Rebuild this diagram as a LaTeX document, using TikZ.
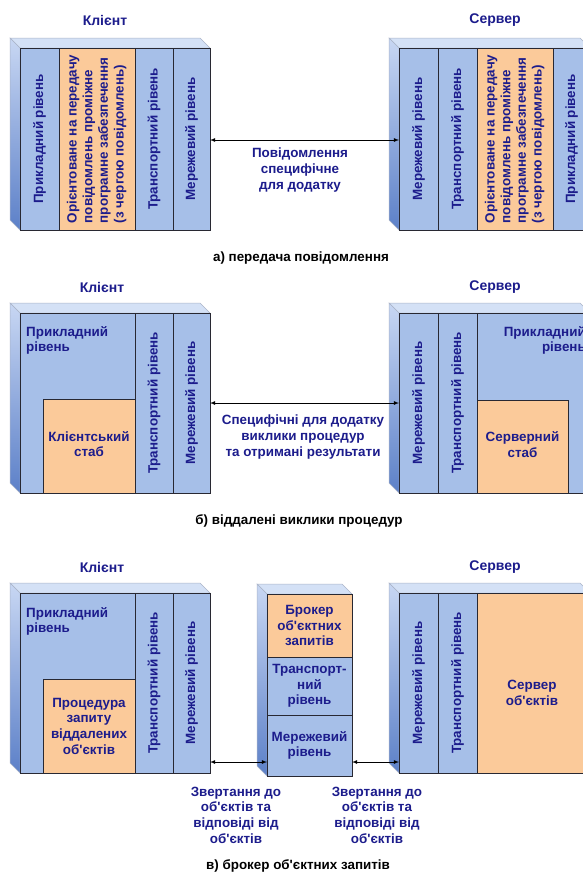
\documentclass[tikz,border=0pt]{standalone}
\usepackage{fontspec}
\setmainfont[Ligatures=TeXOff]{Liberation Sans}
\usepackage{graphicx}
\definecolor{layblue}{RGB}{166,191,232}
\definecolor{stubfill}{RGB}{251,202,154}
\definecolor{topface}{RGB}{212,225,246}
\definecolor{sidetop}{RGB}{200,215,243}
\definecolor{sidebot}{RGB}{92,128,200}
\definecolor{rimgray}{RGB}{170,180,200}
\definecolor{edgec}{RGB}{40,40,50}
\definecolor{txtblue}{RGB}{28,28,140}
% top and left faces of a box whose front face is (#1,#2)-(#3,#4)
\newcommand\slabfaces[4]{%
  \fill[topface,draw=rimgray,line width=0.5pt] (#1-10,#2-10) -- (#3-10,#2-10) -- (#3,#2) -- (#1,#2) -- cycle;
  \shade[top color=sidetop,bottom color=sidebot,draw=rimgray,line width=0.5pt]
    (#1-10,#2-10) -- (#1,#2) -- (#1,#4) -- (#1-10,#4-10) -- cycle;
}
\begin{document}
\begin{tikzpicture}[x=1pt,y=-1pt,
  txt/.style={text=txtblue,font=\bfseries\fontsize{13.4}{15.7}\selectfont},
  lay/.style={txt,draw=edgec,line width=0.8pt,fill=layblue,inner sep=0pt,outer sep=0pt,anchor=north west},
  stubbox/.style={lay,fill=stubfill},
  title/.style={txt,font=\bfseries\fontsize{14}{16}\selectfont},
  caption/.style={font=\bfseries\fontsize{13.4}{15.7}\selectfont,text=black},
  note/.style={txt,align=center,inner sep=0pt},
  link/.style={<->,>=latex,line width=0.8pt,black}]
\useasboundingbox (0,0) rectangle (583,876);
\clip (0,0) rectangle (583,876);
\fill[white] (0,0) rectangle (583,876);

% ---------------- a) message passing ----------------
\node[title] (ta1) at (105,20) {Клієнт};
\node[title] (ta2) at (495,20) {Сервер};
\slabfaces{20}{48}{210}{230}
\node[lay,minimum width=39pt,minimum height=182pt] (ca1) at (20,48) {\rotatebox{90}{Прикладний рівень}};
\node[stubbox,minimum width=76pt,minimum height=182pt] (ca2) at (59,48)
  {\rotatebox{90}{\begin{tabular}{@{}l@{}}Орієнтоване на передачу\\повідомлень проміжне\\програмне забезпечення\\(з чергою повідомлень)\end{tabular}}};
\node[lay,minimum width=38pt,minimum height=182pt] (ca3) at (135,48) {\rotatebox{90}{Транспортний рівень}};
\node[lay,minimum width=37pt,minimum height=182pt] (ca4) at (173,48) {\rotatebox{90}{Мережевий рівень}};

\slabfaces{399}{48}{590}{230}
\node[lay,minimum width=39pt,minimum height=182pt] (sa4) at (399,48) {\rotatebox{90}{Мережевий рівень}};
\node[lay,minimum width=39pt,minimum height=182pt] (sa3) at (438,48) {\rotatebox{90}{Транспортний рівень}};
\node[stubbox,minimum width=76pt,minimum height=182pt] (sa2) at (477,48)
  {\rotatebox{90}{\begin{tabular}{@{}l@{}}Орієнтоване на передачу\\повідомлень проміжне\\програмне забезпечення\\(з чергою повідомлень)\end{tabular}}};
\node[lay,minimum width=37pt,minimum height=182pt] (sa1) at (553,48) {\rotatebox{90}{Прикладний рівень}};

\coordinate (ya) at (0,140);
\draw[link] (ca4.east |- ya) -- (sa4.west |- ya);
\node[note] (la) at (300,170) {Повідомлення\\специфічне\\для додатку};
\node[caption] (capa) at (301,258) {а) передача повідомлення};

% ---------------- b) remote procedure calls ----------------
\node[title] (tb1) at (102,287) {Клієнт};
\node[title] (tb2) at (495,287) {Сервер};
\slabfaces{20}{313}{210}{493}
\node[lay,minimum width=115pt,minimum height=180pt] (cb1) at (20,313) {};
\node[txt,anchor=north west,align=left,inner sep=0pt] (cb1t) at (26,326) {Прикладний\\рівень};
\node[stubbox,minimum width=92pt,minimum height=94pt,align=center] (cbs) at (43,399) {\raisebox{-3pt}{\begin{tabular}{@{}c@{}}Клієнтський\\стаб\end{tabular}}};
\node[lay,minimum width=38pt,minimum height=180pt] (cb3) at (135,313) {\rotatebox{90}{Транспортний рівень}};
\node[lay,minimum width=37pt,minimum height=180pt] (cb4) at (173,313) {\rotatebox{90}{Мережевий рівень}};

\slabfaces{399}{313}{590}{493}
\node[lay,minimum width=39pt,minimum height=180pt] (sb4) at (399,313) {\rotatebox{90}{Мережевий рівень}};
\node[lay,minimum width=39pt,minimum height=180pt] (sb3) at (438,313) {\rotatebox{90}{Транспортний рівень}};
\node[lay,minimum width=113pt,minimum height=180pt] (sb1) at (477,313) {};
\node[txt,anchor=north east,align=right,inner sep=0pt] (sb1t) at (586,326) {Прикладний\\рівень};
\node[stubbox,minimum width=91pt,minimum height=93pt,align=center] (sbs) at (477,400) {\raisebox{-3pt}{\begin{tabular}{@{}c@{}}Серверний\\стаб\end{tabular}}};

\coordinate (yb) at (0,403);
\draw[link] (cb4.east |- yb) -- (sb4.west |- yb);
\node[note] (lb) at (303,437) {Специфічні для додатку\\виклики процедур\\та отримані результати};
\node[caption] (capb) at (299,521) {б) віддалені виклики процедур};

% ---------------- c) object request broker ----------------
\node[title] (tc1) at (102,567) {Клієнт};
\node[title] (tc2) at (495,567) {Сервер};
\slabfaces{20}{593}{210}{773}
\node[lay,minimum width=115pt,minimum height=180pt] (cc1) at (20,593) {};
\node[txt,anchor=north west,align=left,inner sep=0pt] (cc1t) at (26,607) {Прикладний\\рівень};
\node[stubbox,minimum width=92pt,minimum height=94pt,align=center] (ccs) at (43,679) {Процедура\\запиту\\віддалених\\об'єктів};
\node[lay,minimum width=38pt,minimum height=180pt] (cc3) at (135,593) {\rotatebox{90}{Транспортний рівень}};
\node[lay,minimum width=37pt,minimum height=180pt] (cc4) at (173,593) {\rotatebox{90}{Мережевий рівень}};

\slabfaces{267}{594}{352}{776}
\node[stubbox,minimum width=85pt,minimum height=63pt,align=center] (bk1) at (267,594) {Брокер\\об'єктних\\запитів};
\node[lay,minimum width=85pt,minimum height=58pt,align=center] (bk2) at (267,657) {Транспорт-\\ний\\рівень};
\node[lay,minimum width=85pt,minimum height=61pt,align=center] (bk3) at (267,715) {Мережевий\\рівень};

\slabfaces{399}{593}{590}{773}
\node[lay,minimum width=39pt,minimum height=180pt] (sc4) at (399,593) {\rotatebox{90}{Мережевий рівень}};
\node[lay,minimum width=39pt,minimum height=180pt] (sc3) at (438,593) {\rotatebox{90}{Транспортний рівень}};
\node[stubbox,minimum width=113pt,minimum height=180pt] (scs) at (477,593) {};
\node[note] (scst) at (532,693) {Сервер\\об'єктів};

\coordinate (yc) at (0,762);
\draw[link] (cc4.east |- yc) -- (bk3.west |- yc);
\draw[link] (bk3.east |- yc) -- (sc4.west |- yc);
\node[note] (lc1) at (236,815) {Звертання до\\об'єктів та\\відповіді від\\об'єктів};
\node[note] (lc2) at (377,815) {Звертання до\\об'єктів та\\відповіді від\\об'єктів};
\node[caption] (capc) at (298,866) {в) брокер об'єктних запитів};
\end{tikzpicture}
\end{document}
